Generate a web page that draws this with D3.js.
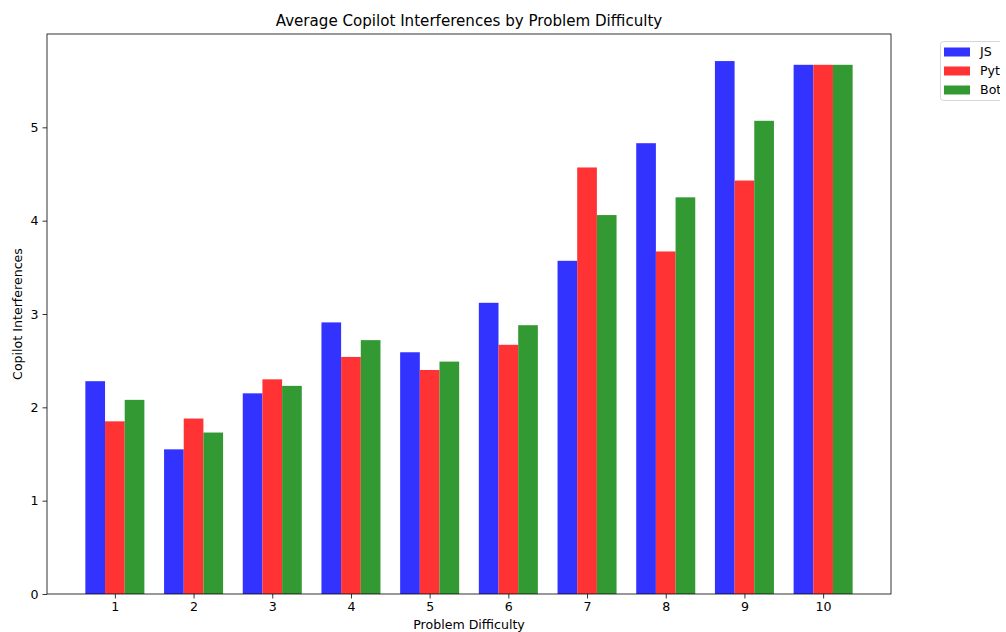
<!DOCTYPE html>
<html>
<head>
<meta charset="utf-8">
<script src="https://cdn.jsdelivr.net/npm/d3@7"></script>
<style>
  body { margin: 0; background: #fff; }
  svg { font-family: "DejaVu Sans", sans-serif; display: block; }
</style>
</head>
<body>
<svg></svg>
<script>
let difficulty = [1, 2, 3, 4, 5, 6, 7, 8, 9, 10]
let seriesNames = ['JS', 'Python', 'Both']
let jsValues = [2.28, 1.55, 2.15, 2.91, 2.59, 3.12, 3.57, 4.83, 5.71, 5.67]
let pyValues = [1.85, 1.88, 2.30, 2.54, 2.40, 2.67, 4.57, 3.67, 4.43, 5.67]
let bothValues = [2.08, 1.73, 2.23, 2.72, 2.49, 2.88, 4.06, 4.25, 5.07, 5.67]
let yTicks = [0, 1, 2, 3, 4, 5]
let colors = ['#3333ff', '#ff3333', '#339933']

let width = 1006
let height = 632
let margin = {left: 47, right: 115, top: 34, bottom: 38}
let barWidth = 0.25
let fontSize = '12.6px'

let svg = d3.select('svg')
            .attr('width', width)
            .attr('height', height)

let x = d3.scaleLinear()
            .domain([0.1375, 10.8625])
            .range([margin.left, width - margin.right])

let y = d3.scaleLinear()
            .domain([0, 6.0])
            .range([height - margin.bottom, margin.top])

let series = [jsValues, pyValues, bothValues]

// bars: JS left of tick, Python on tick, Both right of tick
series.forEach((values, s) => {
    svg.append('g')
        .selectAll('rect')
        .data(values)
        .enter()
        .append('rect')
        .attr('x', (d, i) => x(difficulty[i] + (s - 1) * barWidth - barWidth / 2))
        .attr('width', (d, i) => x(difficulty[i] + barWidth) - x(difficulty[i]))
        .attr('y', d => y(d))
        .attr('height', d => y(0) - y(d))
        .attr('fill', colors[s])
})

let xAxis = d3.axisBottom(x)
                .tickValues(difficulty)
                .tickSize(4.5)
                .tickPadding(4)
                .tickFormat(d3.format('d'))

let yAxis = d3.axisLeft(y)
                .tickValues(yTicks)
                .tickSize(4.5)
                .tickPadding(4)
                .tickFormat(d3.format('d'))

let gx = svg.append('g')
            .attr('transform', `translate(0,${height - margin.bottom})`)
            .call(xAxis)
let gy = svg.append('g')
            .attr('transform', `translate(${margin.left},0)`)
            .call(yAxis)

for (let g of [gx, gy]) {
    g.select('.domain').remove()
    g.selectAll('line').attr('stroke', '#000').attr('stroke-width', 0.8)
    g.selectAll('text').attr('font-size', fontSize).attr('fill', '#000')
        .attr('font-family', '"DejaVu Sans", sans-serif')
}

// frame
svg.append('rect')
    .attr('x', margin.left)
    .attr('y', margin.top)
    .attr('width', width - margin.left - margin.right)
    .attr('height', height - margin.top - margin.bottom)
    .attr('fill', 'none')
    .attr('stroke', '#000')
    .attr('stroke-width', 0.8)

svg.append('text')
    .attr('x', (margin.left + width - margin.right) / 2)
    .attr('y', 26)
    .attr('text-anchor', 'middle')
    .attr('font-size', '15.1px')
    .text('Average Copilot Interferences by Problem Difficulty')

svg.append('text')
    .attr('x', (margin.left + width - margin.right) / 2)
    .attr('y', 629)
    .attr('text-anchor', 'middle')
    .attr('font-size', fontSize)
    .text('Problem Difficulty')

svg.append('text')
    .attr('transform', `translate(22,${(margin.top + height - margin.bottom) / 2}) rotate(-90)`)
    .attr('text-anchor', 'middle')
    .attr('font-size', fontSize)
    .text('Copilot Interferences')

// legend, cut off at the right like the original figure
svg.append('clipPath')
    .attr('id', 'legend-clip')
    .append('rect')
    .attr('x', 930)
    .attr('y', 30)
    .attr('width', 70)
    .attr('height', 80)

let legend = svg.append('g').attr('clip-path', 'url(#legend-clip)')
legend.append('rect')
    .attr('x', 940.5)
    .attr('y', 41.5)
    .attr('width', 90)
    .attr('height', 59)
    .attr('rx', 3)
    .attr('fill', '#fff')
    .attr('stroke', '#d6d6d6')
    .attr('stroke-width', 1)

let rows = legend.selectAll('g.row')
    .data(seriesNames)
    .enter()
    .append('g')
    .attr('class', 'row')
    .attr('transform', (d, i) => `translate(944,${51.5 + i * 19})`)

rows.append('rect')
    .attr('x', 0)
    .attr('y', -4)
    .attr('width', 26)
    .attr('height', 9)
    .attr('fill', (d, i) => colors[i])

rows.append('text')
    .attr('x', 36)
    .attr('y', 4.5)
    .attr('font-size', fontSize)
    .text(d => d)
</script>
</body>
</html>
